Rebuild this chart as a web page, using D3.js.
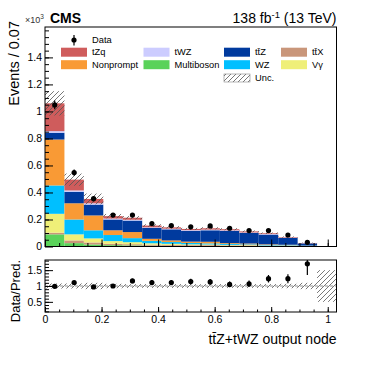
<!DOCTYPE html>
<html>
<head>
<meta charset="utf-8">
<script src="https://cdn.jsdelivr.net/npm/d3@7"></script>
<style>
  body { margin: 0; background: #fff; }
  text { font-family: "Liberation Sans", Arial, sans-serif; }
</style>
</head>
<body>
<div id="chart"></div>
<script>
// bins: 15 equal bins on the output node axis
const xMax = 1.031;
const nBins = 15;

// stacked backgrounds, bottom to top (units of 10^3 events)
const processes = ["Multiboson", "ttX", "Vgamma", "WZ", "Nonprompt", "ttZ", "tWZ", "tZq"];
const multiboson = [0.09, 0.025, 0.015, 0.01, 0.008, 0.006, 0.005, 0.004, 0.004, 0.003, 0.003, 0.002, 0.002, 0.001, 0];
const ttX = [0.012, 0.02, 0.015, 0.01, 0.009, 0.008, 0.007, 0.006, 0.006, 0.005, 0.005, 0.004, 0.003, 0.002, 0];
const vgamma = [0.14, 0.045, 0.03, 0.02, 0.015, 0.01, 0.008, 0.006, 0.005, 0.004, 0.003, 0.002, 0.002, 0.001, 0];
const wz = [0.21, 0.11, 0.06, 0.045, 0.03, 0.018, 0.013, 0.01, 0.008, 0.007, 0.005, 0.004, 0.003, 0.002, 0];
const nonprompt = [0.34, 0.12, 0.11, 0.035, 0.045, 0.015, 0.012, 0.01, 0.012, 0.006, 0.006, 0.004, 0.003, 0.001, 0];
const ttZ = [0.05, 0.085, 0.08, 0.08, 0.085, 0.08, 0.082, 0.08, 0.085, 0.09, 0.078, 0.072, 0.05, 0.016, 0];
const tWZ = [0.012, 0.01, 0.01, 0.007, 0.006, 0.005, 0.005, 0.005, 0.005, 0.005, 0.004, 0.004, 0.003, 0.001, 0];
const tZq = [0.206, 0.08, 0.032, 0.018, 0.015, 0.013, 0.01, 0.009, 0.01, 0.008, 0.008, 0.006, 0.004, 0.002, 0];
const predUnc = [0.09, 0.045, 0.04, 0.016, 0.012, 0.01, 0.009, 0.008, 0.008, 0.008, 0.007, 0.006, 0.005, 0.003, 0];

// observed
const dataVals = [1.048, 0.547, 0.354, 0.233, 0.233, 0.17, 0.155, 0.146, 0.152, 0.135, 0.118, 0.118, 0.085, 0.031, null];
const dataErr = [0.032, 0.023, 0.019, 0.015, 0.015, 0.013, 0.012, 0.012, 0.012, 0.012, 0.011, 0.011, 0.009, 0.006, null];

// ratio panel
const ratioVals = [0.99, 1.11, 0.97, 1.0, 1.16, 1.11, 1.11, 1.14, 1.13, 1.05, 1.07, 1.23, 1.23, 1.7, null];
const ratioErr = [0.03, 0.04, 0.05, 0.06, 0.07, 0.08, 0.08, 0.09, 0.09, 0.09, 0.1, 0.12, 0.14, 0.35, null];
const ratioUnc = [0.08, 0.08, 0.1, 0.07, 0.06, 0.06, 0.06, 0.06, 0.06, 0.06, 0.06, 0.06, 0.07, 0.1, 0.5];

// ticks
const yTicks = [0, 0.2, 0.4, 0.6, 0.8, 1, 1.2, 1.4];
const xTicks = [0, 0.2, 0.4, 0.6, 0.8, 1];
const rTicks = [0.5, 1, 1.5];

const colors = {
  Multiboson: "#5ad25a",
  ttX: "#c9967a",
  Vgamma: "#efef78",
  WZ: "#00bfff",
  Nonprompt: "#f99a35",
  ttZ: "#003a9e",
  tWZ: "#ccccff",
  tZq: "#cf5c5c"
};

const width = 374, height = 367;
const svg = d3.select("#chart").append("svg")
  .attr("width", width).attr("height", height);

svg.append("rect").attr("width", width).attr("height", height).attr("fill", "#fff");

// hatch pattern for uncertainties
const defs = svg.append("defs");
defs.append("pattern")
  .attr("id", "hatch")
  .attr("patternUnits", "userSpaceOnUse")
  .attr("width", 5).attr("height", 5)
  .append("path")
  .attr("d", "M-1,1 l2,-2 M0,5 l5,-5 M4,6 l2,-2")
  .attr("stroke", "#555").attr("stroke-width", 0.8);

const x = d3.scaleLinear().domain([0, xMax]).range([45, 336.5]);
const y = d3.scaleLinear().domain([0, 1.625]).range([246.5, 27]);
const yr = d3.scaleLinear().domain([0.18, 1.82]).range([312, 260]);

const edges = d3.range(nBins + 1).map((i) => (i * xMax) / nBins);

// table for the stack
const series = [multiboson, ttX, vgamma, wz, nonprompt, ttZ, tWZ, tZq];
const table = d3.range(nBins).map((i) => {
  const row = { bin: i };
  processes.forEach((p, k) => (row[p] = series[k][i]));
  return row;
});
const stacked = d3.stack().keys(processes)(table);

defs.append("clipPath").attr("id", "clipTop")
  .append("rect").attr("x", 45).attr("y", 27).attr("width", 291.5).attr("height", 219.5);
defs.append("clipPath").attr("id", "clipRatio")
  .append("rect").attr("x", 45).attr("y", 260).attr("width", 291.5).attr("height", 52);

const mainPanel = svg.append("g").attr("clip-path", "url(#clipTop)");

mainPanel.selectAll(".layer")
  .data(stacked)
  .enter().append("g")
  .attr("fill", (d) => colors[d.key])
  .selectAll("rect")
  .data((d) => d)
  .enter().append("rect")
  .attr("x", (d) => x(edges[d.data.bin]))
  .attr("width", (d) => x(edges[d.data.bin + 1]) - x(edges[d.data.bin]))
  .attr("y", (d) => y(d[1]))
  .attr("height", (d) => y(d[0]) - y(d[1]));

// total prediction uncertainty
const totals = table.map((r) => d3.sum(processes, (p) => r[p]));
mainPanel.selectAll(".unc")
  .data(totals)
  .enter().append("rect")
  .attr("x", (d, i) => x(edges[i]))
  .attr("width", (d, i) => x(edges[i + 1]) - x(edges[i]))
  .attr("y", (d, i) => y(d + predUnc[i]))
  .attr("height", (d, i) => y(d - predUnc[i]) - y(d + predUnc[i]))
  .attr("fill", "url(#hatch)");

// data points
const pts = dataVals.map((v, i) => ({ v, e: dataErr[i], c: (edges[i] + edges[i + 1]) / 2 })).filter((d) => d.v !== null);
mainPanel.selectAll(".derr").data(pts).enter().append("line")
  .attr("x1", (d) => x(d.c)).attr("x2", (d) => x(d.c))
  .attr("y1", (d) => y(d.v - d.e)).attr("y2", (d) => y(d.v + d.e))
  .attr("stroke", "#000").attr("stroke-width", 1.2);
mainPanel.selectAll(".dot").data(pts).enter().append("circle")
  .attr("cx", (d) => x(d.c)).attr("cy", (d) => y(d.v)).attr("r", 2.6).attr("fill", "#000");

// axes of the upper panel
function fmt(d) { return String(+d.toFixed(1)); }

svg.append("g").attr("transform", "translate(45,0)")
  .call(d3.axisLeft(y).tickValues(yTicks).tickSize(-8).tickPadding(3).tickFormat(fmt))
  .call((g) => g.select(".domain").remove());
svg.append("g").attr("transform", "translate(45,0)")
  .call(d3.axisLeft(y).tickValues(d3.range(0.05, 1.62, 0.05)).tickSize(-4).tickFormat(""))
  .call((g) => g.select(".domain").remove());

svg.append("g").attr("transform", "translate(0,246.5)")
  .call(d3.axisBottom(x).tickValues(xTicks).tickSize(-7).tickFormat(""))
  .call((g) => g.select(".domain").remove());
svg.append("g").attr("transform", "translate(0,246.5)")
  .call(d3.axisBottom(x).tickValues(d3.range(0.05, 1.03, 0.05)).tickSize(-3.5).tickFormat(""))
  .call((g) => g.select(".domain").remove());

svg.append("rect").attr("x", 45).attr("y", 27).attr("width", 291.5).attr("height", 219.5)
  .attr("fill", "none").attr("stroke", "#000").attr("stroke-width", 1);

// ratio panel
const rat = svg.append("g").attr("clip-path", "url(#clipRatio)");
rat.selectAll(".runc").data(ratioUnc).enter().append("rect")
  .attr("x", (d, i) => x(edges[i]))
  .attr("width", (d, i) => x(edges[i + 1]) - x(edges[i]))
  .attr("y", (d) => yr(1 + d))
  .attr("height", (d) => yr(1 - d) - yr(1 + d))
  .attr("fill", "url(#hatch)");
rat.append("line")
  .attr("x1", x(0)).attr("x2", x(xMax)).attr("y1", yr(1)).attr("y2", yr(1))
  .attr("stroke", "#777").attr("stroke-width", 0.8).attr("stroke-dasharray", "3,2");

const rpts = ratioVals.map((v, i) => ({ v, e: ratioErr[i], c: (edges[i] + edges[i + 1]) / 2 })).filter((d) => d.v !== null);
rat.selectAll(".rerr").data(rpts).enter().append("line")
  .attr("x1", (d) => x(d.c)).attr("x2", (d) => x(d.c))
  .attr("y1", (d) => yr(d.v - d.e)).attr("y2", (d) => yr(d.v + d.e))
  .attr("stroke", "#000").attr("stroke-width", 1.2);
rat.selectAll(".rdot").data(rpts).enter().append("circle")
  .attr("cx", (d) => x(d.c)).attr("cy", (d) => yr(d.v)).attr("r", 2.6).attr("fill", "#000");

svg.append("g").attr("transform", "translate(45,0)")
  .call(d3.axisLeft(yr).tickValues(rTicks).tickSize(-8).tickPadding(3).tickFormat(fmt))
  .call((g) => g.select(".domain").remove());
svg.append("g").attr("transform", "translate(45,0)")
  .call(d3.axisLeft(yr).tickValues(d3.range(0.2, 1.81, 0.1)).tickSize(-4).tickFormat(""))
  .call((g) => g.select(".domain").remove());
svg.append("g").attr("transform", "translate(0,312)")
  .call(d3.axisBottom(x).tickValues(xTicks).tickSize(-5).tickPadding(4).tickFormat(fmt))
  .call((g) => g.select(".domain").remove());
svg.append("g").attr("transform", "translate(0,312)")
  .call(d3.axisBottom(x).tickValues(d3.range(0.05, 1.03, 0.05)).tickSize(-2.5).tickFormat(""))
  .call((g) => g.select(".domain").remove());

svg.append("rect").attr("x", 45).attr("y", 260).attr("width", 291.5).attr("height", 52)
  .attr("fill", "none").attr("stroke", "#000").attr("stroke-width", 1);

svg.selectAll(".tick text").attr("font-size", "10.5px").attr("fill", "#000")
  .attr("font-family", "Liberation Sans, Arial, sans-serif");
svg.selectAll(".tick line").attr("stroke", "#000");

// titles
svg.append("text").attr("transform", "translate(19,21) rotate(-90)")
  .attr("text-anchor", "end").attr("font-size", "14.5px").text("Events / 0.07");
svg.append("text").attr("transform", "translate(20,260) rotate(-90)")
  .attr("text-anchor", "end").attr("font-size", "13px").text("Data/Pred.");
svg.append("text").attr("x", 336.5).attr("y", 343.5)
  .attr("text-anchor", "end").attr("font-size", "14px").text("tt\u0304Z+tWZ output node");

svg.append("text").attr("x", 50).attr("y", 23)
  .attr("font-size", "14px").attr("font-weight", "bold").text("CMS");
const expo = svg.append("text").attr("x", 25).attr("y", 23).attr("font-size", "9px").attr("fill", "#333");
expo.append("tspan").text("\u00d710");
expo.append("tspan").attr("font-size", "6.5px").attr("dy", -4).text("3");

const lumi = svg.append("text").attr("x", 336.5).attr("y", 22.7)
  .attr("text-anchor", "end").attr("font-size", "14px");
lumi.append("tspan").text("138 fb");
lumi.append("tspan").attr("font-size", "9.5px").attr("dy", -5).text("-1");
lumi.append("tspan").attr("dy", 5).text(" (13 TeV)");

// legend
const legendItems = [
  { key: "tZq", label: "tZq", col: 0, row: 1 },
  { key: "tWZ", label: "tWZ", col: 1, row: 1 },
  { key: "ttZ", label: "tt\u0304Z", col: 2, row: 1 },
  { key: "ttX", label: "tt\u0304X", col: 3, row: 1 },
  { key: "Nonprompt", label: "Nonprompt", col: 0, row: 2 },
  { key: "Multiboson", label: "Multiboson", col: 1, row: 2 },
  { key: "WZ", label: "WZ", col: 2, row: 2 },
  { key: "Vgamma", label: "V\u03b3", col: 3, row: 2 },
  { key: "unc", label: "Unc.", col: 2, row: 3 }
];
const colX = [61, 143.5, 224, 281];
const rowY = [40, 52.2, 64.7, 78];
const leg = svg.append("g").attr("font-size", "9.3px");

leg.append("line").attr("x1", 74).attr("x2", 74).attr("y1", 35).attr("y2", 45.5)
  .attr("stroke", "#000").attr("stroke-width", 1.2);
leg.append("circle").attr("cx", 74).attr("cy", 40).attr("r", 2.6).attr("fill", "#000");
leg.append("text").attr("x", 92).attr("y", rowY[0]).attr("dy", "0.35em").text("Data");

legendItems.forEach((it) => {
  const x0 = colX[it.col], yc = rowY[it.row];
  const h = it.key === "unc" ? 8 : 9;
  leg.append("rect")
    .attr("x", x0).attr("y", yc - h / 2).attr("width", 26).attr("height", h)
    .attr("fill", it.key === "unc" ? "url(#hatch)" : colors[it.key])
    .attr("stroke", it.key === "unc" ? "#888" : "none").attr("stroke-width", 0.6);
  leg.append("text").attr("x", x0 + 31).attr("y", yc).attr("dy", "0.35em").text(it.label);
});
</script>
</body>
</html>
